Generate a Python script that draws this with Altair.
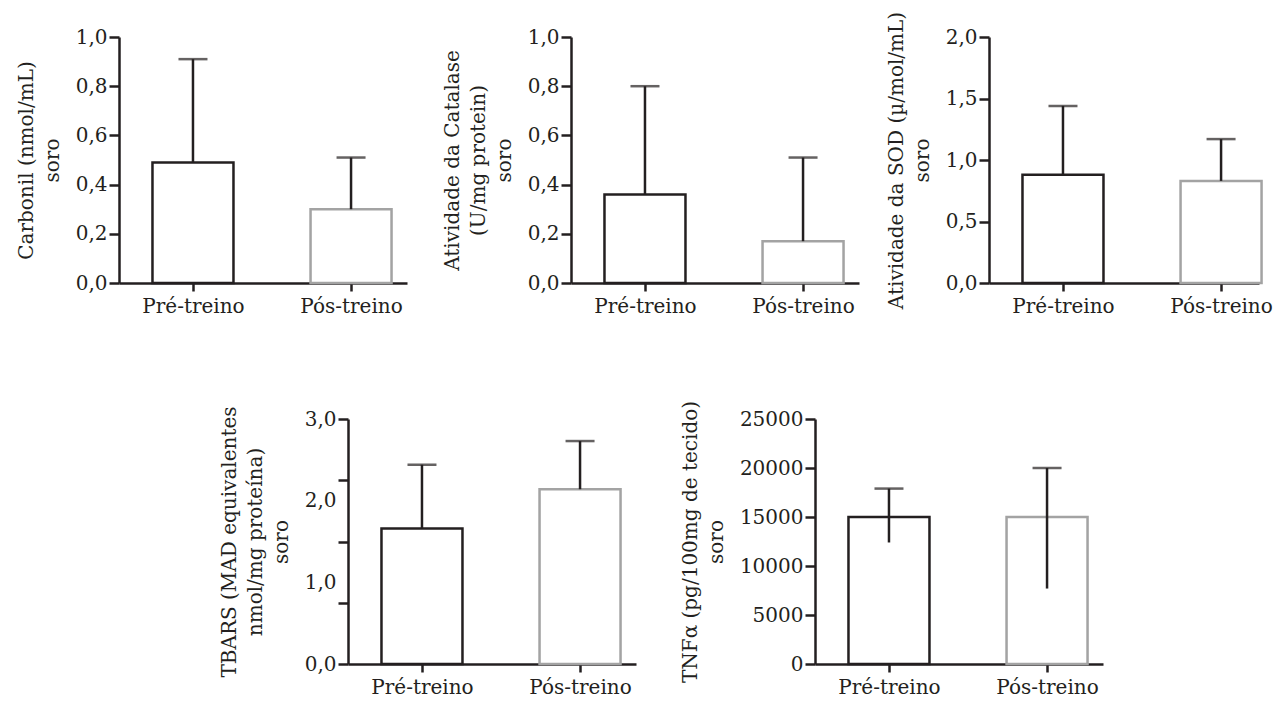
import altair as alt
import pandas as pd

# ---- data ----
groups = ["Pré-treino", "Pós-treino"]
group_idx = [0, 1]

carbonil_mean = [0.49, 0.30]
carbonil_upper = [0.91, 0.51]

catalase_mean = [0.36, 0.17]
catalase_upper = [0.80, 0.51]

sod_mean = [0.88, 0.83]
sod_upper = [1.44, 1.17]

tbars_mean = [1.66, 2.14]
tbars_upper = [2.44, 2.73]

tnf_mean = [15000, 15000]
tnf_upper = [17900, 20000]
tnf_lower = [12400, 7700]

carbonil_ticks = [0, 0.2, 0.4, 0.6, 0.8, 1.0]
catalase_ticks = [0, 0.2, 0.4, 0.6, 0.8, 1.0]
sod_ticks = [0, 0.5, 1.0, 1.5, 2.0]
tbars_ticks = [0, 0.75, 1.0, 1.5, 2.0, 2.25, 3.0]
tbars_labels = [0, 1, 2, 3]
tnf_ticks = [0, 5000, 10000, 15000, 20000, 25000]

FONT = "DejaVu Serif"
INK = "#231f20"
GREY = "#a3a3a3"
DEC = "replace(format(datum.value, '.1f'), '.', ',')"


def panel(mean, upper, title, ymax, yticks, label_expr, width, height,
          lower=None, xmax=1.354, tick_opacity=None):
    df = pd.DataFrame({
        "idx": group_idx,
        "grupo": groups,
        "media": mean,
        "sup": upper,
        "inf": lower if lower is not None else mean,
    })
    xscale = alt.Scale(domain=[-0.468, xmax], nice=False, zero=False, padding=0)
    xaxis = alt.Axis(values=[0, 1], tickSize=8, labelPadding=5,
                     labelExpr="datum.value == 0 ? 'Pré-treino' : 'Pós-treino'")
    ykw = dict(values=yticks, labelExpr=label_expr, tickSize=10, labelPadding=2,
               titlePadding=13, titleLineHeight=26)
    if tick_opacity is not None:
        ykw["tickOpacity"] = tick_opacity
    yscale = alt.Scale(domain=[0, ymax], nice=False, padding=0)
    base = alt.Chart(df)
    bars = base.mark_bar(fill="white", strokeWidth=2.5, size=81).encode(
        x=alt.X("idx:Q", scale=xscale, axis=xaxis, title=None),
        y=alt.Y("media:Q", scale=yscale, axis=alt.Axis(**ykw), title=title),
        stroke=alt.Stroke("grupo:N", scale=alt.Scale(domain=groups, range=[INK, GREY]),
                          legend=None),
    )
    rule = base.mark_rule(color=INK, strokeWidth=2.5).encode(
        x=alt.X("idx:Q", title=None),
        y=alt.Y("inf:Q"),
        y2="sup:Q",
    )
    cap = base.mark_tick(orient="horizontal", size=29, thickness=2.5, color=INK).encode(
        x=alt.X("idx:Q", title=None),
        y=alt.Y("sup:Q"),
    )
    return alt.layer(bars, rule, cap).properties(width=width, height=height)


p1 = panel(carbonil_mean, carbonil_upper, ["Carbonil (nmol/mL)", "soro"],
           1.0, carbonil_ticks, DEC, 288, 246)
p2 = panel(catalase_mean, catalase_upper,
           ["Atividade da Catalase", "(U/mg protein)", "soro"],
           1.0, catalase_ticks, DEC, 288, 246)
p3 = panel(sod_mean, sod_upper, ["Atividade da SOD (µ/mol/mL)", "soro"],
           2.0, sod_ticks, DEC, 270, 246, xmax=1.24)

tb_expr = ("indexof(" + str(tbars_labels) + ", datum.value) >= 0 ? " + DEC + " : ''")
p4 = panel(tbars_mean, tbars_upper,
           ["TBARS (MAD equivalentes", "nmol/mg proteína)", "soro"],
           3.0, tbars_ticks, tb_expr, 288, 245,
           tick_opacity={"condition": {"test": "datum.value == 1 || datum.value == 2",
                                       "value": 0}, "value": 1})
p5 = panel(tnf_mean, tnf_upper, ["TNFα (pg/100mg de tecido)", "soro"],
           25000, tnf_ticks, "format(datum.value, 'd')", 288, 245, lower=tnf_lower)

# invisible spacer that shifts the lower row to the right
spacer = alt.Chart(pd.DataFrame({"v": [0]})).mark_point(opacity=0).encode(
    x=alt.X("v:Q", axis=None), y=alt.Y("v:Q", axis=None)
).properties(width=56, height=245)

top = alt.hconcat(alt.hconcat(p1, p2, spacing=35), p3, spacing=27)
bottom = alt.hconcat(spacer, p4, p5, spacing=44)

chart = alt.vconcat(top, bottom, spacing=84).properties(
    padding={"left": 8, "top": 3, "right": 0, "bottom": 0}
).configure_axis(
    labelFont=FONT, labelFontSize=20, labelColor=INK,
    titleFont=FONT, titleFontSize=20, titleFontWeight="normal", titleColor=INK,
    domainColor=INK, domainWidth=2.5, tickColor=INK, tickWidth=2.5, grid=False,
).configure_view(stroke=None)

chart.save("out.html", embed_options={"renderer": "svg", "actions": False})
